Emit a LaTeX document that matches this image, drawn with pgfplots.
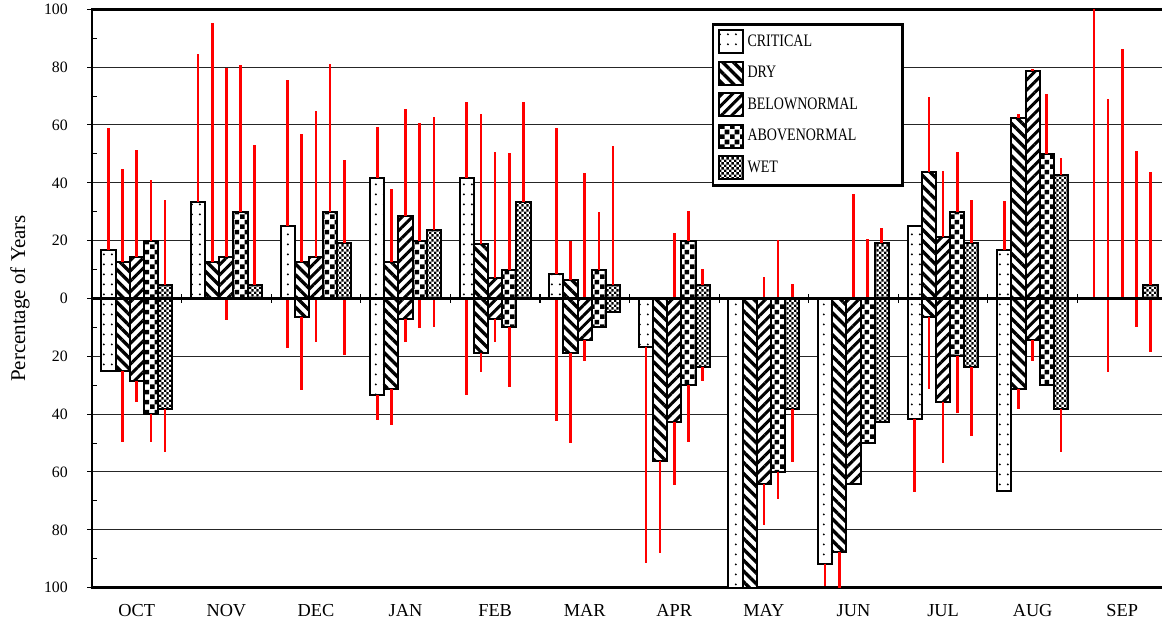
\documentclass[border=0pt]{standalone}
\usepackage{fontspec}
\setmainfont{Liberation Serif}
\newfontfamily\legfont[FakeStretch=0.8]{Liberation Serif}
\usepackage{pgfplots}
\usepackage{pgfplotstable}
\pgfplotsset{compat=1.18}
\usetikzlibrary{patterns,patterns.meta}

\tikzdeclarepattern{
  name=critdots, type=uncolored,
  bounding box={(0,0) and (5pt,6pt)},
  tile size={(5pt,6pt)},
  code={\fill (2.5pt,3pt) circle (0.7pt);}
}
\tikzdeclarepattern{
  name=bigcheck, type=uncolored,
  bounding box={(0,0) and (6pt,6pt)},
  tile size={(6pt,6pt)},
  code={\fill (0,0) rectangle (3pt,3pt); \fill (3pt,3pt) rectangle (6pt,6pt);}
}
\tikzdeclarepattern{
  name=smallcheck, type=uncolored,
  bounding box={(0,0) and (3.2pt,3.2pt)},
  tile size={(3.2pt,3.2pt)},
  code={\fill (0,0) rectangle (1.6pt,1.6pt); \fill (1.6pt,1.6pt) rectangle (3.2pt,3.2pt);}
}

% columns: month index, positive share, red extent above, negative share, red extent below
\pgfplotstableread{
m pos perr neg nerr
0 16.67 42.33 -25.00 0
1 33.33 51.07 0 0
2 25.00 50.60 0 17.00
3 41.67 17.53 -33.33 8.67
4 41.67 26.13 0 33.40
5 8.33 50.67 0 42.40
6 0 0 -16.67 74.93
7 0 0 -100.00 0
8 0 0 -91.67 7.63
9 25.00 0 -41.67 25.13
10 16.67 17.03 -66.67 0
11 0 100.00 0 0
}\critical
\pgfplotstableread{
m pos perr neg nerr
0 12.50 32.20 -25.00 24.80
1 12.50 82.70 0 0
2 12.50 44.50 -6.25 25.35
3 12.50 25.40 -31.25 12.45
4 18.75 44.95 -18.75 6.55
5 6.25 13.75 -18.75 31.25
6 0 0 -56.25 31.85
7 0 0 -100.00 0
8 0 0 -87.50 12.50
9 43.75 25.85 -6.25 25.05
10 62.50 1.20 -31.25 7.05
11 0 69.10 0 25.30
}\dry
\pgfplotstableread{
m pos perr neg nerr
0 14.29 36.91 -28.57 7.33
1 14.29 65.51 0 7.40
2 14.29 50.51 0 15.10
3 28.57 36.93 -7.14 7.76
4 7.14 43.66 -7.14 7.76
5 0 43.30 -14.29 7.31
6 0 22.50 -42.86 21.64
7 0 7.50 -64.29 14.01
8 0 36.00 -64.29 0
9 21.43 22.57 -35.71 21.29
10 78.57 0.90 -14.29 7.41
11 0 86.40 0 0
}\belownormal
\pgfplotstableread{
m pos perr neg nerr
0 20.00 21.00 -40.00 9.80
1 30.00 50.70 0 0
2 30.00 51.00 0 0
3 20.00 40.80 0 10.30
4 10.00 40.40 -10.00 20.50
5 10.00 20.00 -10.00 0
6 20.00 10.40 -30.00 19.50
7 0 20.20 -60.00 9.40
8 0 20.60 -50.00 0
9 30.00 20.50 -20.00 19.70
10 50.00 20.80 -30.00 0
11 0 50.90 0 9.70
}\abovenormal
\pgfplotstableread{
m pos perr neg nerr
0 4.76 29.34 -38.10 14.90
1 4.76 48.24 0 0
2 19.05 28.95 0 19.60
3 23.81 38.89 0 10.00
4 33.33 34.67 0 0
5 4.76 48.04 -4.76 0
6 4.76 5.34 -23.81 4.59
7 0 5.00 -38.10 18.30
8 19.05 5.25 -42.86 0
9 19.05 14.95 -23.81 23.59
10 42.86 5.74 -38.10 15.10
11 4.76 39.04 0 18.60
}\wet

\pgfplotsset{
  barbase/.style={ybar, bar width=0.158, bar shift=0, draw=black, line width=1.2pt, fill=white,
    legend image code/.code={\draw[##1] (0pt,-6.9pt) rectangle (14.4pt,6.9pt);}},
  upbars/.style={error bars/y dir=plus, error bars/y explicit,
    error bars/error mark=none, error bars/error bar style={draw=red, line width=1.6pt}},
  downbars/.style={error bars/y dir=minus, error bars/y explicit,
    error bars/error mark=none, error bars/error bar style={draw=red, line width=1.6pt}},
  sCrit/.style={barbase, postaction={pattern=critdots}},
  sDry/.style={barbase, postaction={pattern={Lines[angle=-45,distance=4.6pt,line width=2pt]}}},
  sBN/.style={barbase, postaction={pattern={Lines[angle=45,distance=4.4pt,line width=1.8pt]}}},
  sAN/.style={barbase, postaction={pattern=bigcheck}},
  sWet/.style={barbase, postaction={pattern=smallcheck}},
}

\begin{document}
\begin{tikzpicture}
\path[use as bounding box] (0,0) rectangle (697.2pt,371.4pt);
\begin{axis}[
  at={(55.2pt,18.8pt)}, anchor=south west,
  scale only axis, width=645pt, height=347pt,
  xmin=-0.5, xmax=11.5, ymin=-100, ymax=100,
  axis line style={line width=1.5pt, black},
  xtick={0,...,11},
  xticklabels={OCT,NOV,DEC,JAN,FEB,MAR,APR,MAY,JUN,JUL,AUG,SEP},
  xtick style={draw=none},
  xticklabel style={font=\fontsize{11}{13}\selectfont, yshift=-3.5pt},
  ytick={-100,-80,...,100},
  minor y tick num=1,
  ytick pos=left,
  tick align=outside,
  major tick length=3pt, minor tick length=3pt,
  minor y tick style={xshift=3pt},
  ytick style={black, line width=0.6pt},
  yticklabel={\pgfmathparse{abs(\tick)}\pgfmathprintnumber[assume math mode=true]{\pgfmathresult}},
  yticklabel style={font=\fontsize{9.5}{11}\selectfont, xshift=-8pt},
  ymajorgrids,
  major grid style={black!85, line width=0.6pt},
  ylabel={Percentage of Years},
  ylabel style={at={(axis description cs:-0.067,0.5)}, anchor=center, font=\fontsize{12.6}{14}\selectfont},
  legend style={at={(0.5767,0.9763)}, anchor=north west, draw=black, line width=1.5pt,
    inner xsep=3pt, inner ysep=3pt, row sep=3.9pt,
    font=\legfont\fontsize{10.5}{12}\selectfont},
  legend cell align=left,
]
\addplot[sCrit, upbars] table[x expr=\thisrow{m}-0.316, y=pos, y error=perr] {\critical};
\addlegendentry{\makebox[88pt][l]{CRITICAL}}
\addplot[sDry, upbars] table[x expr=\thisrow{m}-0.158, y=pos, y error=perr] {\dry};
\addlegendentry{DRY}
\addplot[sBN, upbars] table[x expr=\thisrow{m}, y=pos, y error=perr] {\belownormal};
\addlegendentry{BELOWNORMAL}
\addplot[sAN, upbars] table[x expr=\thisrow{m}+0.158, y=pos, y error=perr] {\abovenormal};
\addlegendentry{ABOVENORMAL}
\addplot[sWet, upbars] table[x expr=\thisrow{m}+0.316, y=pos, y error=perr] {\wet};
\addlegendentry{WET}
\addplot[forget plot, sCrit, downbars] table[x expr=\thisrow{m}-0.316, y=neg, y error=nerr] {\critical};
\addplot[forget plot, sDry, downbars] table[x expr=\thisrow{m}-0.158, y=neg, y error=nerr] {\dry};
\addplot[forget plot, sBN, downbars] table[x expr=\thisrow{m}, y=neg, y error=nerr] {\belownormal};
\addplot[forget plot, sAN, downbars] table[x expr=\thisrow{m}+0.158, y=neg, y error=nerr] {\abovenormal};
\addplot[forget plot, sWet, downbars] table[x expr=\thisrow{m}+0.316, y=neg, y error=nerr] {\wet};
\end{axis}
\begin{axis}[
  at={(55.2pt,18.8pt)}, anchor=south west,
  scale only axis, width=645pt, height=347pt,
  xmin=-0.5, xmax=11.5, ymin=-100, ymax=100,
  axis x line=middle, axis y line=none,
  axis line style={-, line width=1.8pt, black},
  xtick={0.5,1.5,...,10.5}, xticklabels={},
  ytick=\empty,
  tick align=center, major tick length=5pt,
  xtick style={black, line width=0.7pt},
]
\end{axis}
\end{tikzpicture}
\end{document}
